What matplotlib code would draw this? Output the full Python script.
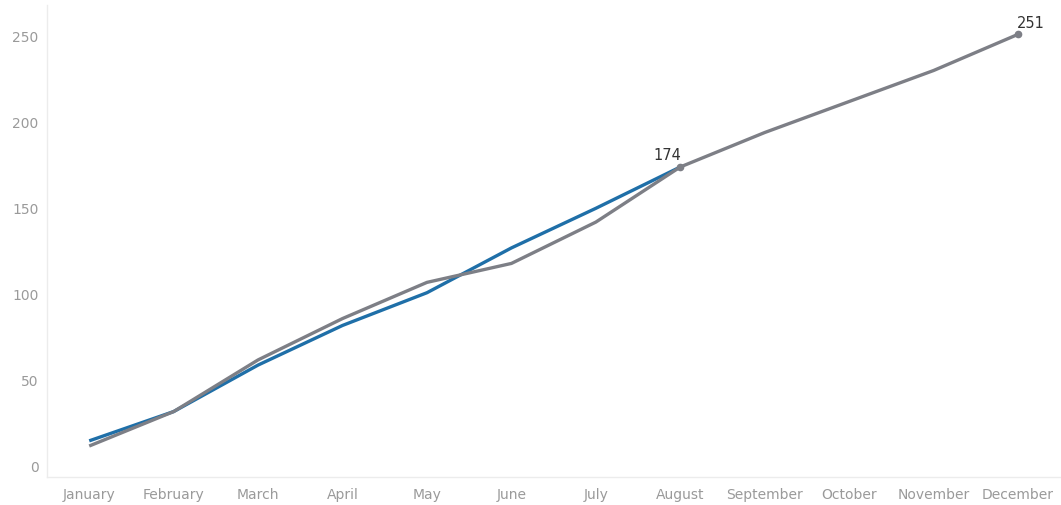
import matplotlib.pyplot as plt

months = ["January", "February", "March", "April", "May", "June",
          "July", "August", "September", "October", "November", "December"]
# current year (Jan - Aug)
current = [15, 32, 59, 82, 101, 127, 150, 174]
# previous year (full)
previous = [12, 32, 62, 86, 107, 118, 142, 174, 194, 212, 230, 251]
y_ticks = [0, 50, 100, 150, 200, 250]

fig = plt.figure(figsize=(10.61, 5.05), dpi=100)
ax = fig.add_axes([0.0443, 0.0554, 0.955, 0.9346])

x_cur = list(range(len(current)))
x_prev = list(range(len(previous)))

ax.plot(x_cur, current, color="#1f6fa8", lw=2.4, solid_capstyle="butt", zorder=2)
ax.plot(x_prev, previous, color="#7d7f86", lw=2.4, solid_capstyle="butt", zorder=3)

# end-point dots and labels
ax.plot([x_prev[7], x_prev[-1]], [previous[7], previous[-1]], "o",
        color="#7d7f86", ms=4.5, zorder=4)
ax.annotate(str(previous[7]), (x_prev[7], previous[7]), xytext=(-9.5, 3),
            textcoords="offset points", ha="center", va="bottom",
            fontsize=10.5, color="#333333")
ax.annotate(str(previous[-1]), (x_prev[-1], previous[-1]), xytext=(9, 2.5),
            textcoords="offset points", ha="center", va="bottom",
            fontsize=10.5, color="#333333")

ax.set_xlim(-0.5, 11.5)
ax.set_ylim(-6, 268)
ax.set_xticks(range(len(months)))
ax.set_xticklabels(months)
ax.set_yticks(y_ticks)
ax.tick_params(length=0, labelsize=10, labelcolor="#9a9a9a")
ax.tick_params(axis="x", pad=8)
ax.tick_params(axis="y", pad=6)

for side in ["top", "right"]:
    ax.spines[side].set_visible(False)
for side in ["left", "bottom"]:
    ax.spines[side].set_color("#ececec")
    ax.spines[side].set_linewidth(1)

fig.savefig("out.png", dpi=100)
